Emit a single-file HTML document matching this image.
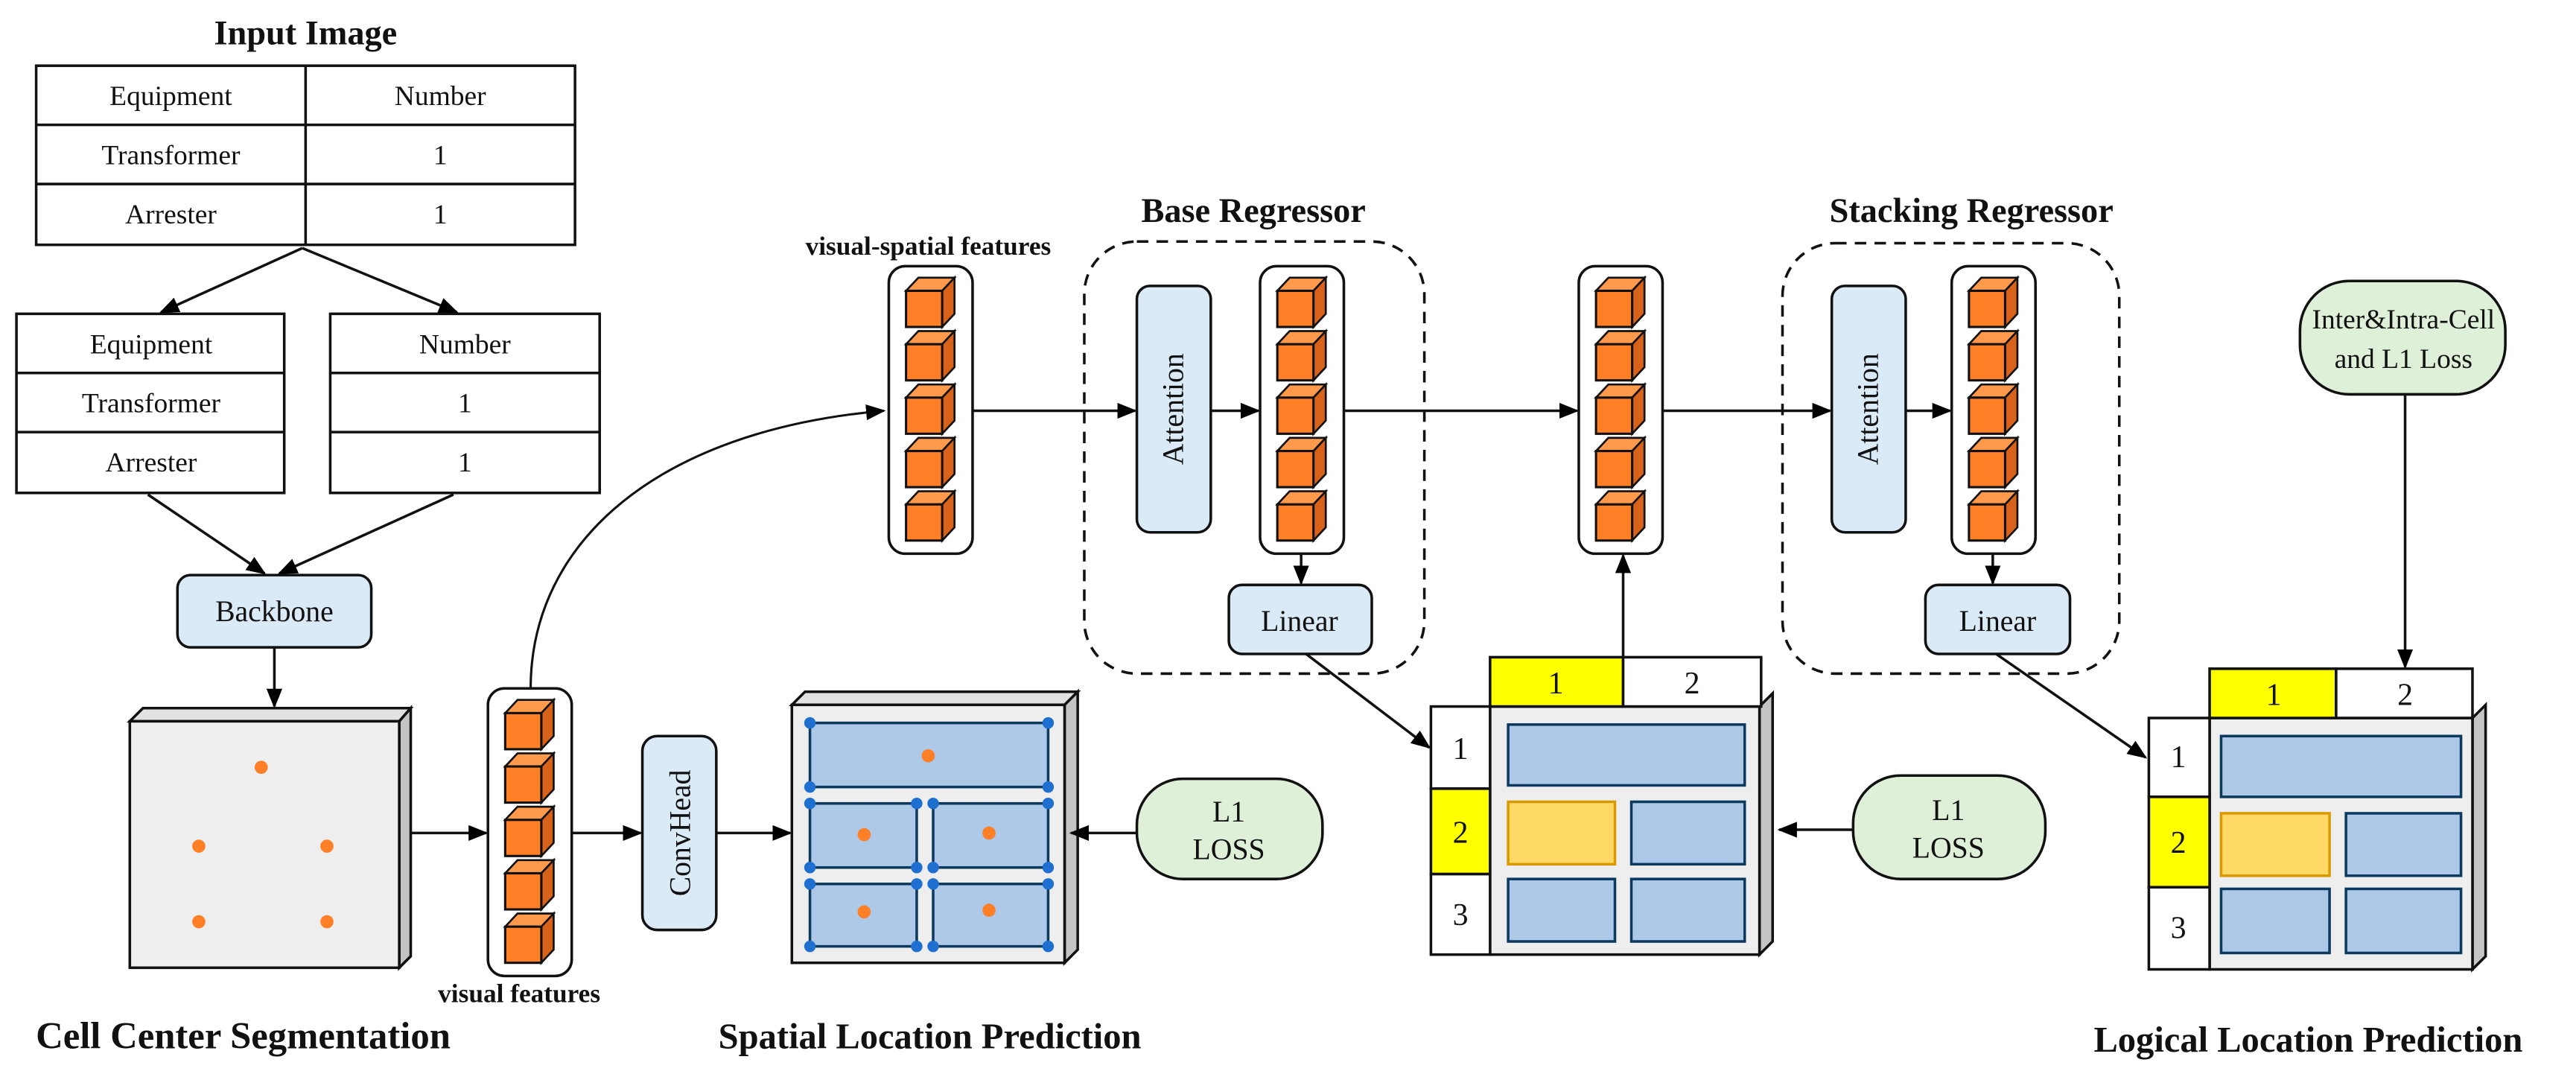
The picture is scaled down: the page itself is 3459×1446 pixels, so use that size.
<!DOCTYPE html>
<html><head><meta charset="utf-8"><style>
html,body{margin:0;padding:0;background:#fff;}
svg{display:block;}
text{font-family:"Liberation Serif","Times New Roman",Times,"DejaVu Serif",serif;fill:#111;}
.b{font-weight:bold;}
</style></head><body>
<svg width="3459" height="1446" viewBox="0 0 1568 655.5" xmlns="http://www.w3.org/2000/svg" font-family="Liberation Serif, Times New Roman, serif">
<defs>
<marker id="a2" viewBox="0 0 10 10" refX="9" refY="5" markerWidth="12" markerHeight="12" orient="auto" markerUnits="userSpaceOnUse"><path d="M0,1 L10,5 L0,9 z" fill="#000"/></marker>
<g id="cube">
<polygon points="0,8 7.5,0 29.5,0 22,8" fill="#ff9a4d" stroke="#111" stroke-width="1.2"/>
<polygon points="22,8 29.5,0 29.5,22 22,30" fill="#d9621a" stroke="#111" stroke-width="1.2"/>
<rect x="0" y="8" width="22" height="22" fill="#ff7f27" stroke="#111" stroke-width="1.4"/>
</g>
<g id="col">
<rect x="0" y="0" width="51" height="175" rx="10" fill="#fff" stroke="#111" stroke-width="1.6"/>
<use href="#cube" x="10.5" y="7"/><use href="#cube" x="10.5" y="39.5"/><use href="#cube" x="10.5" y="72"/><use href="#cube" x="10.5" y="104.5"/><use href="#cube" x="10.5" y="137"/>
</g>
</defs>
<g stroke="#111" stroke-width="1.6" fill="none">
<rect x="22" y="40" width="328" height="109" fill="#fff"/>
<line x1="186" y1="40" x2="186" y2="149"/><line x1="22" y1="76" x2="350" y2="76"/><line x1="22" y1="112" x2="350" y2="112"/>
<rect x="10" y="191" width="163" height="109" fill="#fff"/>
<line x1="10" y1="227" x2="173" y2="227"/><line x1="10" y1="263" x2="173" y2="263"/>
<rect x="201" y="191" width="164" height="109" fill="#fff"/>
<line x1="201" y1="227" x2="365" y2="227"/><line x1="201" y1="263" x2="365" y2="263"/>
</g>
<g font-size="17" text-anchor="middle">
<text x="104" y="64">Equipment</text><text x="268" y="64">Number</text>
<text x="104" y="100">Transformer</text><text x="268" y="100">1</text>
<text x="104" y="136">Arrester</text><text x="268" y="136">1</text>
<text x="92" y="215">Equipment</text><text x="283" y="215">Number</text>
<text x="92" y="251">Transformer</text><text x="283" y="251">1</text>
<text x="92" y="287">Arrester</text><text x="283" y="287">1</text>
</g>
<text x="186" y="27" font-size="21" class="b" text-anchor="middle">Input Image</text>
<g stroke="#111" stroke-width="1.6" fill="none" marker-end="url(#a2)">
<line x1="184" y1="151" x2="98" y2="190"/>
<line x1="184" y1="151" x2="278" y2="190"/>
<line x1="90" y1="301" x2="161" y2="349"/>
<line x1="276" y1="301" x2="170" y2="349"/>
</g>
<rect x="108" y="350" width="118" height="44" rx="8" fill="#dbeaf7" stroke="#111" stroke-width="1.6"/>
<text x="167" y="378" font-size="18" text-anchor="middle">Backbone</text>
<line x1="167" y1="394" x2="167" y2="430" stroke="#111" stroke-width="1.6" marker-end="url(#a2)"/>
<polygon points="79,439 87,431 250,431 243,439" fill="#e2e2e2" stroke="#111" stroke-width="1.6"/>
<polygon points="243,439 250,431 250,582 243,589" fill="#c4c4c4" stroke="#111" stroke-width="1.6"/>
<rect x="79" y="439" width="164" height="150" fill="#eeeeee" stroke="#111" stroke-width="1.6"/>
<g fill="#ff7f27"><circle cx="159" cy="467" r="4"/><circle cx="121" cy="515" r="4"/><circle cx="199" cy="515" r="4"/><circle cx="121" cy="561" r="4"/><circle cx="199" cy="561" r="4"/></g>
<text x="148" y="638" font-size="23" class="b" text-anchor="middle">Cell Center Segmentation</text>
<line x1="250" y1="507" x2="296" y2="507" stroke="#111" stroke-width="1.6" marker-end="url(#a2)"/>
<g transform="translate(297,419)"><use href="#col"/></g>
<text x="316" y="610" font-size="16" class="b" text-anchor="middle">visual features</text>
<path d="M323,419 C323,330 400,262 538,250" stroke="#111" stroke-width="1.4" fill="none" marker-end="url(#a2)"/>
<line x1="348" y1="507" x2="390" y2="507" stroke="#111" stroke-width="1.6" marker-end="url(#a2)"/>
<rect x="391" y="448" width="45" height="118" rx="9" fill="#dbeaf7" stroke="#111" stroke-width="1.6"/>
<text transform="translate(420,507) rotate(-90)" font-size="18" text-anchor="middle">ConvHead</text>
<line x1="436" y1="507" x2="481" y2="507" stroke="#111" stroke-width="1.6" marker-end="url(#a2)"/>
<polygon points="482,429 490,421 656,421 648,429" fill="#e2e2e2" stroke="#111" stroke-width="1.6"/>
<polygon points="648,429 656,421 656,578 648,586" fill="#c4c4c4" stroke="#111" stroke-width="1.6"/>
<rect x="482" y="429" width="166" height="157" fill="#eeeeee" stroke="#111" stroke-width="1.6"/>
<g fill="#aec8e8" stroke="#0b3a5e" stroke-width="1.6">
<rect x="493" y="440" width="145" height="39"/>
<rect x="493" y="489" width="65" height="39"/><rect x="568" y="489" width="70" height="39"/>
<rect x="493" y="538" width="65" height="38"/><rect x="568" y="538" width="70" height="38"/>
</g>
<g fill="#1f6fd0">
<circle cx="493" cy="440" r="3.5"/><circle cx="638" cy="440" r="3.5"/><circle cx="493" cy="479" r="3.5"/><circle cx="638" cy="479" r="3.5"/>
<circle cx="493" cy="489" r="3.5"/><circle cx="558" cy="489" r="3.5"/><circle cx="568" cy="489" r="3.5"/><circle cx="638" cy="489" r="3.5"/>
<circle cx="493" cy="528" r="3.5"/><circle cx="558" cy="528" r="3.5"/><circle cx="568" cy="528" r="3.5"/><circle cx="638" cy="528" r="3.5"/>
<circle cx="493" cy="538" r="3.5"/><circle cx="558" cy="538" r="3.5"/><circle cx="568" cy="538" r="3.5"/><circle cx="638" cy="538" r="3.5"/>
<circle cx="493" cy="576" r="3.5"/><circle cx="558" cy="576" r="3.5"/><circle cx="568" cy="576" r="3.5"/><circle cx="638" cy="576" r="3.5"/>
</g>
<g fill="#ff7f27"><circle cx="565" cy="460" r="4"/><circle cx="526" cy="508" r="4"/><circle cx="602" cy="507" r="4"/><circle cx="526" cy="555" r="4"/><circle cx="602" cy="554" r="4"/></g>
<text x="566" y="638" font-size="22" class="b" text-anchor="middle">Spatial Location Prediction</text>
<rect x="692" y="474" width="113" height="61" rx="28" fill="#dff0d8" stroke="#111" stroke-width="1.6"/>
<text x="748" y="500" font-size="18" text-anchor="middle">L1</text><text x="748" y="523" font-size="18" text-anchor="middle">LOSS</text>
<line x1="692" y1="507" x2="652" y2="507" stroke="#111" stroke-width="1.6" marker-end="url(#a2)"/>
<text x="565" y="155" font-size="16" class="b" text-anchor="middle">visual-spatial features</text>
<g transform="translate(541,162)"><use href="#col"/></g>
<text x="763" y="135" font-size="21" class="b" text-anchor="middle">Base Regressor</text>
<rect x="660" y="147" width="207" height="263" rx="32" fill="none" stroke="#111" stroke-width="1.6" stroke-dasharray="7,5"/>
<line x1="592" y1="250" x2="691" y2="250" stroke="#111" stroke-width="1.6" marker-end="url(#a2)"/>
<rect x="692" y="174" width="45" height="150" rx="8" fill="#dbeaf7" stroke="#111" stroke-width="1.6"/>
<text transform="translate(720,249) rotate(-90)" font-size="18" text-anchor="middle">Attention</text>
<line x1="737" y1="250" x2="766" y2="250" stroke="#111" stroke-width="1.6" marker-end="url(#a2)"/>
<g transform="translate(767,162)"><use href="#col"/></g>
<line x1="792" y1="337" x2="792" y2="355" stroke="#111" stroke-width="1.6" marker-end="url(#a2)"/>
<rect x="748" y="356" width="87" height="42" rx="8" fill="#dbeaf7" stroke="#111" stroke-width="1.6"/>
<text x="791" y="384" font-size="18" text-anchor="middle">Linear</text>
<line x1="818" y1="250" x2="960" y2="250" stroke="#111" stroke-width="1.6" marker-end="url(#a2)"/>
<g transform="translate(961,162)"><use href="#col"/></g>
<line x1="795" y1="398" x2="870" y2="455" stroke="#111" stroke-width="1.6" marker-end="url(#a2)"/>
<line x1="988" y1="400" x2="988" y2="338" stroke="#111" stroke-width="1.6" marker-end="url(#a2)"/>
<polygon points="1071,430 1079,422 1079,573 1071,581" fill="#c4c4c4" stroke="#111" stroke-width="1.6"/>
<rect x="907" y="430" width="164" height="151" fill="#eeeeee" stroke="#111" stroke-width="1.6"/>
<rect x="907" y="400" width="81" height="30" fill="#ffff00" stroke="#111" stroke-width="1.6"/>
<rect x="988" y="400" width="84" height="30" fill="#fff" stroke="#111" stroke-width="1.6"/>
<rect x="871" y="430" width="36" height="50" fill="#fff" stroke="#111" stroke-width="1.6"/>
<rect x="871" y="480" width="36" height="52" fill="#ffff00" stroke="#111" stroke-width="1.6"/>
<rect x="871" y="532" width="36" height="49" fill="#fff" stroke="#111" stroke-width="1.6"/>
<g fill="#aec8e8" stroke="#0b3a5e" stroke-width="1.6">
<rect x="918" y="441" width="144" height="37"/>
<rect x="993" y="488" width="69" height="38"/>
<rect x="918" y="535" width="65" height="38"/><rect x="993" y="535" width="69" height="38"/>
</g>
<rect x="918" y="488" width="65" height="38" fill="#ffd966" stroke="#d99a00" stroke-width="1.6"/>
<g font-size="19" text-anchor="middle"><text x="947" y="422">1</text><text x="1030" y="422">2</text><text x="889" y="462">1</text><text x="889" y="513">2</text><text x="889" y="563">3</text></g>
<rect x="1128" y="472" width="117" height="63" rx="29" fill="#dff0d8" stroke="#111" stroke-width="1.6"/>
<text x="1186" y="499" font-size="18" text-anchor="middle">L1</text><text x="1186" y="522" font-size="18" text-anchor="middle">LOSS</text>
<line x1="1128" y1="505" x2="1083" y2="505" stroke="#111" stroke-width="1.6" marker-end="url(#a2)"/>
<text x="1200" y="135" font-size="21" class="b" text-anchor="middle">Stacking Regressor</text>
<rect x="1085" y="148" width="205" height="262" rx="32" fill="none" stroke="#111" stroke-width="1.6" stroke-dasharray="7,5"/>
<line x1="1012" y1="250" x2="1114" y2="250" stroke="#111" stroke-width="1.6" marker-end="url(#a2)"/>
<rect x="1115" y="174" width="45" height="150" rx="8" fill="#dbeaf7" stroke="#111" stroke-width="1.6"/>
<text transform="translate(1143,249) rotate(-90)" font-size="18" text-anchor="middle">Attention</text>
<line x1="1160" y1="250" x2="1187" y2="250" stroke="#111" stroke-width="1.6" marker-end="url(#a2)"/>
<g transform="translate(1188,162)"><use href="#col"/></g>
<line x1="1213" y1="337" x2="1213" y2="355" stroke="#111" stroke-width="1.6" marker-end="url(#a2)"/>
<rect x="1172" y="356" width="88" height="42" rx="8" fill="#dbeaf7" stroke="#111" stroke-width="1.6"/>
<text x="1216" y="384" font-size="18" text-anchor="middle">Linear</text>
<line x1="1215" y1="398" x2="1306" y2="461" stroke="#111" stroke-width="1.6" marker-end="url(#a2)"/>
<rect x="1400" y="171" width="125" height="69" rx="30" fill="#dff0d8" stroke="#111" stroke-width="1.6"/>
<text x="1463" y="200" font-size="17" text-anchor="middle">Inter&amp;Intra-Cell</text>
<text x="1463" y="224" font-size="17" text-anchor="middle">and L1 Loss</text>
<line x1="1464" y1="240" x2="1464" y2="406" stroke="#111" stroke-width="1.6" marker-end="url(#a2)"/>
<polygon points="1505,437 1513,429 1513,582 1505,590" fill="#c4c4c4" stroke="#111" stroke-width="1.6"/>
<rect x="1345" y="437" width="160" height="153" fill="#eeeeee" stroke="#111" stroke-width="1.6"/>
<rect x="1345" y="407" width="77" height="30" fill="#ffff00" stroke="#111" stroke-width="1.6"/>
<rect x="1422" y="407" width="83" height="30" fill="#fff" stroke="#111" stroke-width="1.6"/>
<rect x="1308" y="437" width="37" height="48" fill="#fff" stroke="#111" stroke-width="1.6"/>
<rect x="1308" y="485" width="37" height="55" fill="#ffff00" stroke="#111" stroke-width="1.6"/>
<rect x="1308" y="540" width="37" height="50" fill="#fff" stroke="#111" stroke-width="1.6"/>
<g fill="#aec8e8" stroke="#0b3a5e" stroke-width="1.6">
<rect x="1352" y="448" width="146" height="37"/>
<rect x="1428" y="495" width="70" height="38"/>
<rect x="1352" y="541" width="66" height="39"/><rect x="1428" y="541" width="70" height="39"/>
</g>
<rect x="1352" y="495" width="66" height="38" fill="#ffd966" stroke="#d99a00" stroke-width="1.6"/>
<g font-size="19" text-anchor="middle"><text x="1384" y="429">1</text><text x="1464" y="429">2</text><text x="1326" y="467">1</text><text x="1326" y="519">2</text><text x="1326" y="571">3</text></g>
<text x="1405" y="640" font-size="22" class="b" text-anchor="middle">Logical Location Prediction</text>
</svg>
</body></html>
